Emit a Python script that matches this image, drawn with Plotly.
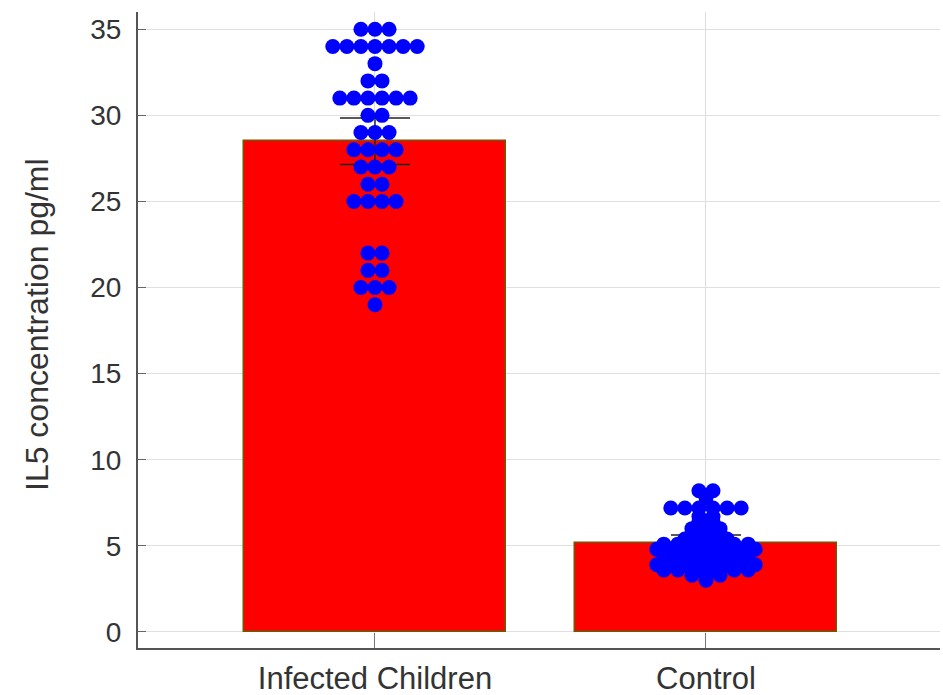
import plotly.graph_objects as go
from collections import Counter

categories = ["Infected Children", "Control"]
bar_means = [28.5, 5.15]
bar_err = [1.35, 0.48]

infected_values = ([35] * 3 + [34] * 7 + [33] * 1 + [32] * 2 + [31] * 6 + [30] * 2 +
                   [29] * 3 + [28] * 4 + [27] * 3 + [26] * 2 + [25] * 4 + [22] * 2 +
                   [21] * 2 + [20] * 3 + [19] * 1)
control_values = ([8.2] * 2 + [7.8] * 1 + [7.2] * 6 + [6.7] * 2 + [6.4] * 2 + [6.0] * 3 +
                  [5.7] * 3 + [5.4] * 4 + [5.1] * 7 + [4.8] * 8 + [4.5] * 7 + [4.2] * 6 +
                  [3.9] * 8 + [3.6] * 7 + [3.3] * 3 + [3.0] * 1)

y_ticks = [0, 5, 10, 15, 20, 25, 30, 35]
y_title = "IL5 concentration pg/ml"

SPACING = 0.0425  # horizontal dot spacing in category units


def swarm(values, center):
    xs, ys = [], []
    counts = Counter(values)
    for v, n in counts.items():
        for i in range(n):
            xs.append(center + (i - (n - 1) / 2) * SPACING)
            ys.append(v)
    return xs, ys


fig = go.Figure()
fig.add_trace(go.Bar(
    x=[0, 1], y=bar_means, width=0.79,
    marker=dict(color="#ff0000", line=dict(color="#6b5a00", width=1.5)),
    error_y=dict(type="data", array=bar_err, visible=True, color="#222222",
                 thickness=1.5, width=35),
    showlegend=False, hoverinfo="skip",
))

for idx, vals in enumerate([infected_values, control_values]):
    xs, ys = swarm(vals, idx)
    fig.add_trace(go.Scatter(
        x=xs, y=ys, mode="markers",
        marker=dict(color="#0000ff", size=15, line=dict(width=0)),
        showlegend=False,
    ))

fig.update_layout(
    width=943, height=695,
    margin=dict(l=138, r=3, t=12, b=47),
    paper_bgcolor="white", plot_bgcolor="white",
    font=dict(family="Liberation Sans, Arial, sans-serif", color="#333333"),
    bargap=0,
)
fig.add_annotation(
    text=y_title, textangle=-90, xref="paper", yref="paper",
    x=0, y=0.5, xanchor="center", yanchor="middle", xshift=-101, yshift=5,
    showarrow=False, font=dict(size=32, color="#333333"),
)
fig.update_xaxes(
    range=[-0.716, 1.707], tickvals=[0, 1], ticktext=categories,
    tickfont=dict(size=31, color="#333333"),
    showgrid=True, gridcolor="#dcdcdc", gridwidth=1,
    showline=True, linecolor="#555555", linewidth=2,
    ticks="inside", ticklen=15, tickcolor="#777777", tickwidth=1,
    ticklabelstandoff=2, zeroline=False, automargin=False,
)
fig.update_yaxes(
    range=[-0.93, 36.0], tickvals=y_ticks,
    tickfont=dict(size=28, color="#333333"),
    showgrid=True, gridcolor="#e0e0e0", gridwidth=1,
    showline=True, linecolor="#555555", linewidth=2,
    ticks="inside", ticklen=8, tickcolor="#666666", tickwidth=1,
    ticklabelstandoff=9, zeroline=False, automargin=False,
)

fig.write_html("out.html", post_script="document.body.style.margin='0';",
               config={"displayModeBar": False})
